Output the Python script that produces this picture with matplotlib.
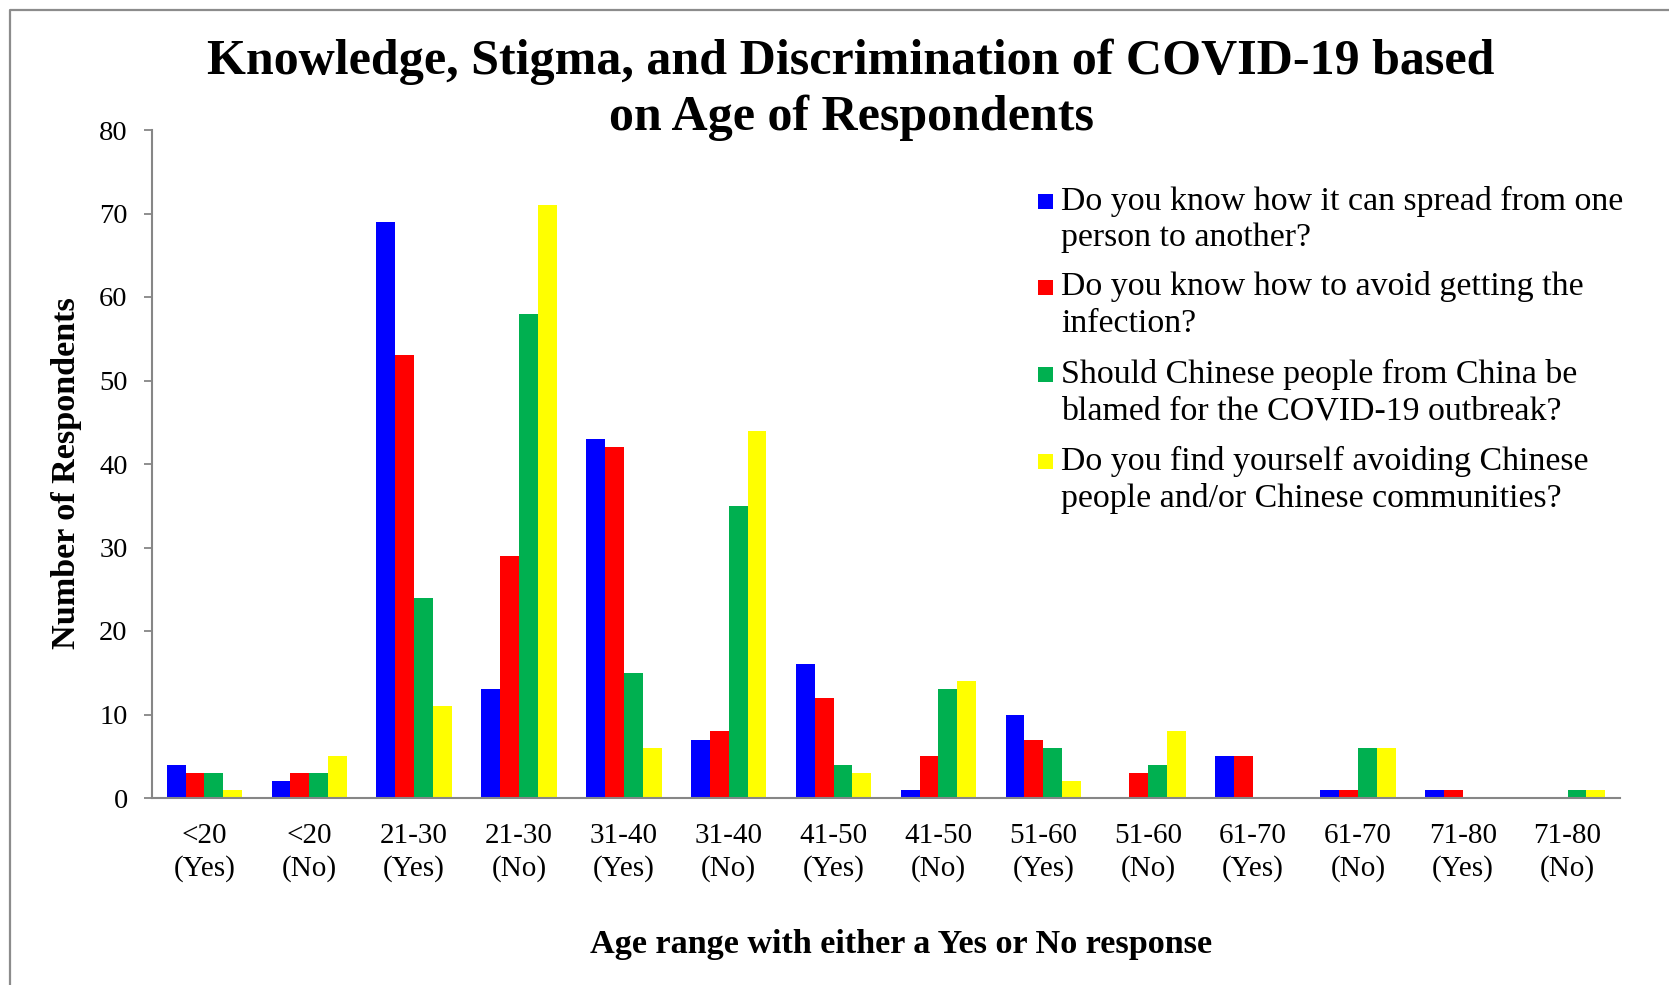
import matplotlib
matplotlib.use("Agg")
import matplotlib.pyplot as plt
from matplotlib.lines import Line2D
from matplotlib.patches import Rectangle
import numpy as np

# Age groups split by Yes / No response
categories = ["<20\n(Yes)", "<20\n(No)", "21-30\n(Yes)", "21-30\n(No)",
              "31-40\n(Yes)", "31-40\n(No)", "41-50\n(Yes)", "41-50\n(No)",
              "51-60\n(Yes)", "51-60\n(No)", "61-70\n(Yes)", "61-70\n(No)",
              "71-80\n(Yes)", "71-80\n(No)"]

spread_knowledge = [4, 2, 69, 13, 43, 7, 16, 1, 10, 0, 5, 1, 1, 0]
avoid_infection = [3, 3, 53, 29, 42, 8, 12, 5, 7, 3, 5, 1, 1, 0]
blame_chinese = [3, 3, 24, 58, 15, 35, 4, 13, 6, 4, 0, 6, 0, 1]
avoid_chinese = [1, 5, 11, 71, 6, 44, 3, 14, 2, 8, 0, 6, 0, 1]

series_labels = [
    ("Do you know how it can spread from one", "person to another?"),
    ("Do you know how to avoid getting the", "infection?"),
    ("Should Chinese people from China be", "blamed for the COVID-19 outbreak?"),
    ("Do you find yourself avoiding Chinese", "people and/or Chinese communities?"),
]
series_colors = ["#0000FF", "#FF0000", "#00B050", "#FFFF00"]
yticks = [0, 10, 20, 30, 40, 50, 60, 70, 80]

FONT = "Liberation Serif"
W, H = 1669, 985
fig = plt.figure(figsize=(W / 100, H / 100), dpi=100)
ax = fig.add_axes([152 / W, 1 - 798 / H, (1620 - 152) / W, (798 - 130) / H])

series = [spread_knowledge, avoid_infection, blame_chinese, avoid_chinese]
x = np.arange(len(categories))
bw = 0.18
for i, (vals, col) in enumerate(zip(series, series_colors)):
    ax.bar(x + (i - 1.5) * bw, vals, width=bw, color=col, linewidth=0, zorder=2)

ax.set_xlim(-0.5, len(categories) - 0.5)
ax.set_ylim(0, 80)
ax.set_yticks(yticks)
ax.set_yticklabels([str(t) for t in yticks], fontfamily=FONT, fontsize=20.5)
ax.set_xticks(x)
ax.set_xticklabels(categories, fontfamily=FONT, fontsize=21, linespacing=1.3)
ax.tick_params(axis="x", length=0, pad=18)
ax.tick_params(axis="y", length=6, width=1.3, color="#868686", pad=11.5, direction="out")

for s in ["top", "right"]:
    ax.spines[s].set_visible(False)
for s in ["left", "bottom"]:
    ax.spines[s].set_color("#868686")
    ax.spines[s].set_linewidth(1.5)

# Title and axis titles
fig.text(851 / W, 1 - 90 / H,
         "Knowledge, Stigma, and Discrimination of COVID-19 based\non Age of Respondents",
         ha="center", va="center", fontfamily=FONT, fontweight="bold",
         fontsize=36, linespacing=1.26)
fig.text(66 / W, 1 - 473 / H, "Number of Respondents", rotation=90,
         ha="center", va="center", fontfamily=FONT, fontweight="bold", fontsize=24.6)
fig.text(901 / W, 1 - 944 / H, "Age range with either a Yes or No response",
         ha="center", va="center", fontfamily=FONT, fontweight="bold", fontsize=24.6)

# Legend: colour square beside the first line of each question
first_line_y = [201, 287, 374, 461]
line_gap = 37
for yc, (l1, l2), col in zip(first_line_y, series_labels, series_colors):
    fig.patches.append(Rectangle((1038 / W, 1 - (yc + 8) / H), 15 / W, 15 / H,
                                 transform=fig.transFigure, facecolor=col,
                                 edgecolor="none"))
    fig.text(1061 / W, 1 - yc / H, l1, ha="left", va="center",
             fontfamily=FONT, fontsize=24.4)
    fig.text(1061 / W, 1 - (yc + line_gap) / H, l2, ha="left", va="center",
             fontfamily=FONT, fontsize=24.4)

# Frame lines along the left and top edges
fig.add_artist(Line2D([10 / W, 10 / W, 1.0], [0.0, 1 - 9.5 / H, 1 - 9.5 / H],
                      transform=fig.transFigure, color="#8c8c8c", linewidth=1.6))

fig.savefig("out.png", dpi=100, facecolor="white")
